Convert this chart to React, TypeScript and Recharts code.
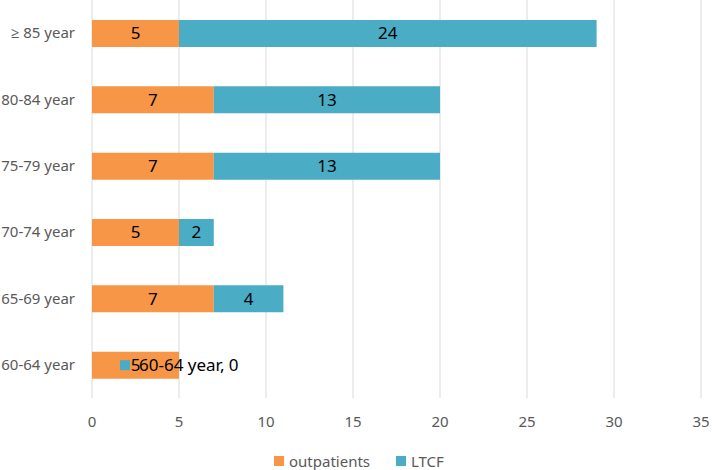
import { BarChart, Bar, XAxis, YAxis, CartesianGrid, Legend, LabelList } from "recharts";

// 年齢区分ごとの件数 (上から順)
const categories = ["≥ 85 year", "80-84 year", "75-79 year", "70-74 year", "65-69 year", "60-64 year"];
const outpatients = [5, 7, 7, 5, 7, 5];
const ltcf = [24, 13, 13, 2, 4, 0];
const xTicks = [0, 5, 10, 15, 20, 25, 30, 35];

const ORANGE = "#F79646";
const BLUE = "#4BACC6";
const FONT = "'Noto Sans', 'Open Sans', sans-serif";

const data = categories.map((c, i) => ({
  category: c,
  outpatients: outpatients[i],
  LTCF: ltcf[i],
}));

function centerText(cx: number, cy: number, value: any) {
  return (
    <text x={cx} y={cy} dy="0.35em" textAnchor="middle" fontSize={17} fill="#000" fontFamily={FONT}>
      {value}
    </text>
  );
}

/** outpatients ラベル。LTCF が 0 の行は Excel 風に凡例キー付き "カテゴリ, 値" も重ねる */
function outLabel(props: any) {
  const { x, y, width, height, value, index } = props;
  const cy = Number(y) + Number(height) / 2;
  const end = Number(x) + Number(width);
  const zero = ltcf[index] === 0;
  return (
    <g>
      {centerText(Number(x) + Number(width) / 2, cy, value)}
      {zero && (
        <>
          <rect x={end - 59} y={cy - 5} width={10} height={10} fill={BLUE} />
          <text x={end - 40} y={cy} dy="0.35em" fontSize={17} fill="#000" fontFamily={FONT}>
            {`${categories[index]}, ${ltcf[index]}`}
          </text>
        </>
      )}
    </g>
  );
}

function ltcfLabel(props: any) {
  const { x, y, width, height, value } = props;
  if (Number(value) === 0) return null;
  return centerText(Number(x) + Number(width) / 2, Number(y) + Number(height) / 2, value);
}

function LegendContent() {
  const items = [
    { name: "outpatients", color: ORANGE },
    { name: "LTCF", color: BLUE },
  ];
  return (
    <div style={{ display: "flex", gap: 26, paddingTop: 13, paddingLeft: 274, fontFamily: FONT, fontSize: 15, lineHeight: "16px", color: "#595959" }}>
      {items.map((it) => (
        <div key={it.name} style={{ display: "flex", alignItems: "center" }}>
          <span style={{ display: "inline-block", width: 10, height: 10, background: it.color, marginRight: 5 }} />
          <span>{it.name}</span>
        </div>
      ))}
    </div>
  );
}

export default function App() {
  return (
    <div style={{ position: "absolute", left: 0, top: 0, background: "#fff" }}>
      <BarChart
        width={712}
        height={470}
        data={data}
        layout="vertical"
        barSize={27}
        margin={{ top: 0, right: 11, bottom: 0, left: 0 }}
      >
        <CartesianGrid horizontal={false} stroke="#D9D9D9" />
        <XAxis
          type="number"
          domain={[0, 35]}
          ticks={xTicks}
          axisLine={false}
          tickLine={false}
          tickMargin={12}
          height={42}
          tick={{ fontSize: 15, fill: "#595959", fontFamily: FONT }}
        />
        <YAxis
          type="category"
          dataKey="category"
          width={92}
          axisLine={false}
          tickLine={false}
          tickSize={0}
          tickMargin={17}
          tick={{ fontSize: 15, fill: "#595959", fontFamily: FONT }}
        />
        <Legend verticalAlign="bottom" height={30} content={<LegendContent />} />
        <Bar dataKey="outpatients" stackId="a" fill={ORANGE} isAnimationActive={false}>
          <LabelList dataKey="outpatients" content={outLabel} />
        </Bar>
        <Bar dataKey="LTCF" stackId="a" fill={BLUE} isAnimationActive={false}>
          <LabelList dataKey="LTCF" content={ltcfLabel} />
        </Bar>
      </BarChart>
    </div>
  );
}
